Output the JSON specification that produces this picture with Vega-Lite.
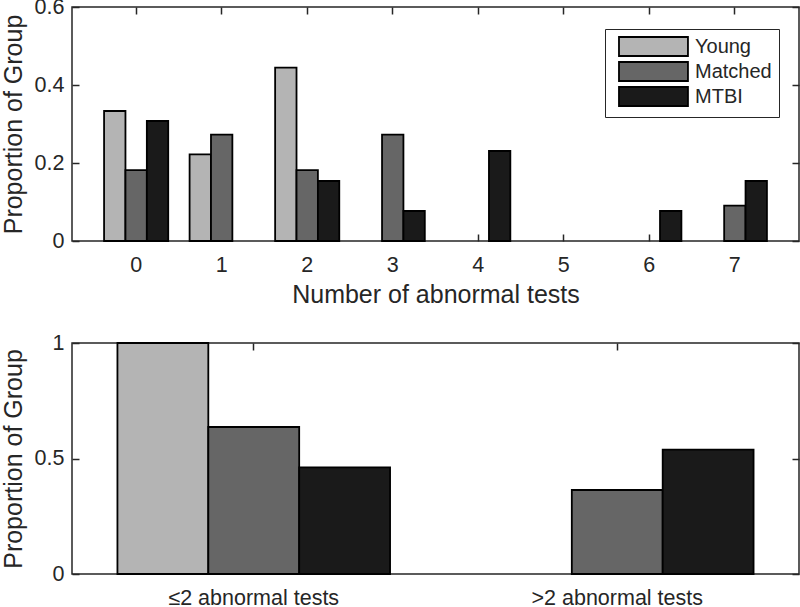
{
  "$schema": "https://vega.github.io/schema/vega-lite/v6.json",
  "padding": {"left": 0, "top": -5, "right": 1, "bottom": 0},
  "config": {
    "font": "Liberation Sans",
    "view": {"stroke": "#262626", "strokeWidth": 1.5},
    "axis": {
      "domain": false, "grid": false,
      "tickColor": "#262626", "tickWidth": 1.5, "tickSize": -7,
      "labelColor": "#262626", "labelFontSize": 21.5, "labelFont": "Liberation Sans",
      "titleColor": "#262626", "titleFontSize": 25, "titleFontWeight": "normal", "titleFont": "Liberation Sans"
    }
  },
  "spacing": 22,
  "resolve": {"scale": {"fill": "independent", "xOffset": "independent", "x": "independent", "y": "independent"}},
  "vconcat": [
    {
      "width": 727, "height": 234,
      "data": {"values": [
        {"abnormal": 0, "group": "Young", "proportion": 0.3333},
        {"abnormal": 1, "group": "Young", "proportion": 0.2222},
        {"abnormal": 2, "group": "Young", "proportion": 0.4444},
        {"abnormal": 0, "group": "Matched", "proportion": 0.1818},
        {"abnormal": 1, "group": "Matched", "proportion": 0.2727},
        {"abnormal": 2, "group": "Matched", "proportion": 0.1818},
        {"abnormal": 3, "group": "Matched", "proportion": 0.2727},
        {"abnormal": 7, "group": "Matched", "proportion": 0.0909},
        {"abnormal": 0, "group": "MTBI", "proportion": 0.3077},
        {"abnormal": 2, "group": "MTBI", "proportion": 0.1538},
        {"abnormal": 3, "group": "MTBI", "proportion": 0.0769},
        {"abnormal": 4, "group": "MTBI", "proportion": 0.2308},
        {"abnormal": 6, "group": "MTBI", "proportion": 0.0769},
        {"abnormal": 7, "group": "MTBI", "proportion": 0.1538}
      ]},
      "layer": [
        {
          "mark": {"type": "bar", "stroke": "#000000", "strokeWidth": 1.8},
          "encoding": {
            "x": {"field": "abnormal", "type": "ordinal",
              "scale": {"domain": [0, 1, 2, 3, 4, 5, 6, 7], "paddingInner": 0, "paddingOuter": 0.25},
              "axis": {"orient": "bottom", "title": "Number of abnormal tests", "labelAngle": 0, "labelPadding": 20, "titlePadding": 7}},
            "xOffset": {"field": "group", "type": "nominal",
              "scale": {"domain": ["Young", "Matched", "MTBI"], "paddingInner": 0, "paddingOuter": 0.5}},
            "y": {"field": "proportion", "type": "quantitative",
              "scale": {"domain": [0, 0.6], "nice": false},
              "axis": {"orient": "left", "values": [0, 0.2, 0.4, 0.6], "format": "~g", "title": "Proportion of Group", "labelPadding": 15, "titlePadding": 8}},
            "fill": {"field": "group", "type": "nominal",
              "scale": {"domain": ["Young", "Matched", "MTBI"], "range": ["#b4b4b4", "#666666", "#1a1a1a"]},
              "legend": {"title": null, "orient": "none", "legendX": 533, "legendY": 22,
                "symbolType": "M-0.37,-1H6.89V1H-0.37Z", "symbolSize": 361,
                "symbolStrokeColor": "#000000", "symbolStrokeWidth": 1.8,
                "labelOffset": 62, "labelFontSize": 20, "labelColor": "#262626",
                "padding": 7, "rowPadding": -2, "strokeColor": "#262626", "fillColor": "white"}}
          }
        },
        {
          "mark": {"type": "bar", "opacity": 0},
          "encoding": {
            "x": {"field": "abnormal", "type": "ordinal", "axis": {"orient": "top", "labels": false, "title": null}},
            "xOffset": {"field": "group", "type": "nominal"},
            "y": {"field": "proportion", "type": "quantitative", "axis": {"orient": "right", "labels": false, "title": null, "values": [0, 0.2, 0.4, 0.6]}}
          }
        }
      ],
      "resolve": {"axis": {"x": "independent", "y": "independent"}}
    },
    {
      "width": 727, "height": 231,
      "data": {"values": [
        {"category": "≤2 abnormal tests", "group": "Young", "proportion": 1},
        {"category": "≤2 abnormal tests", "group": "Matched", "proportion": 0.6364},
        {"category": "≤2 abnormal tests", "group": "MTBI", "proportion": 0.4615},
        {"category": ">2 abnormal tests", "group": "Matched", "proportion": 0.3636},
        {"category": ">2 abnormal tests", "group": "MTBI", "proportion": 0.5385}
      ]},
      "layer": [
        {
          "mark": {"type": "bar", "stroke": "#000000", "strokeWidth": 1.8},
          "encoding": {
            "x": {"field": "category", "type": "nominal",
              "scale": {"domain": ["≤2 abnormal tests", ">2 abnormal tests"], "paddingInner": 0, "paddingOuter": 0},
              "axis": {"orient": "bottom", "title": null, "labelAngle": 0, "labelPadding": 20}},
            "xOffset": {"field": "group", "type": "nominal",
              "scale": {"domain": ["Young", "Matched", "MTBI"], "paddingInner": 0, "paddingOuter": 0.5}},
            "y": {"field": "proportion", "type": "quantitative",
              "scale": {"domain": [0, 1], "nice": false},
              "axis": {"orient": "left", "values": [0, 0.5, 1], "format": "~g", "title": "Proportion of Group", "labelPadding": 15, "titlePadding": 8}},
            "fill": {"field": "group", "type": "nominal",
              "scale": {"domain": ["Young", "Matched", "MTBI"], "range": ["#b4b4b4", "#666666", "#1a1a1a"]},
              "legend": null}
          }
        },
        {
          "mark": {"type": "bar", "opacity": 0},
          "encoding": {
            "x": {"field": "category", "type": "nominal", "axis": {"orient": "top", "labels": false, "title": null}},
            "xOffset": {"field": "group", "type": "nominal"},
            "y": {"field": "proportion", "type": "quantitative", "axis": {"orient": "right", "labels": false, "title": null, "values": [0, 0.5, 1]}}
          }
        }
      ],
      "resolve": {"axis": {"x": "independent", "y": "independent"}}
    }
  ]
}
